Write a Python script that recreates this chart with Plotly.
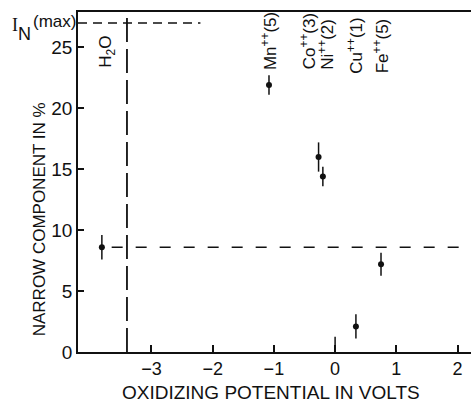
import plotly.graph_objects as go

# Data
ions = ["H<sub>2</sub>O", "Mn<sup>++</sup>(5)", "Co<sup>++</sup>(3)", "Ni<sup>++</sup>(2)", "Cu<sup>++</sup>(1)", "Fe<sup>++</sup>(5)"]
potential = [-3.81, -1.08, -0.27, -0.20, 0.34, 0.75]
narrow_pct = [8.6, 21.9, 16.0, 14.4, 2.1, 7.2]
err = [1.0, 0.8, 1.2, 0.8, 1.0, 0.95]
label_x = [-3.72, -1.09, -0.45, -0.14, 0.33, 0.74]
label_y = [23.2, 23.0, 23.0, 23.0, 22.7, 22.7]

i_n_max = 27.0
h2o_level = 8.6
h2o_potential = -3.4

x_ticks = [-3, -2, -1, 0, 1, 2]
y_ticks = [0, 5, 10, 15, 20, 25]

FONT = "Liberation Sans Narrow, Liberation Sans, Arial, sans-serif"
INK = "#111111"

fig = go.Figure()

fig.add_trace(go.Scatter(
    x=potential, y=narrow_pct, mode="markers",
    marker=dict(color=INK, size=6),
    error_y=dict(type="data", array=err, visible=True, color=INK, thickness=1.5, width=0),
    showlegend=False,
))

# dashed reference lines
fig.add_trace(go.Scatter(x=[-4.2, -2.2], y=[i_n_max, i_n_max], mode="lines",
                         line=dict(color=INK, width=1.5, dash="9px,6px"), showlegend=False))
fig.add_trace(go.Scatter(x=[-3.65, 2.25], y=[h2o_level, h2o_level], mode="lines",
                         line=dict(color=INK, width=1.5, dash="11px,13px"), showlegend=False))
fig.add_trace(go.Scatter(x=[h2o_potential, h2o_potential], y=[0, 27.9], mode="lines",
                         line=dict(color=INK, width=1.8, dash="24px,7px"), showlegend=False))

# longer tick at zero
fig.add_shape(type="line", x0=0, x1=0, y0=0, y1=1.25, xref="x", yref="y",
              line=dict(color=INK, width=1.5))

for t, lx, ly in zip(ions, label_x, label_y):
    fig.add_annotation(x=lx, y=ly, xref="x", yref="y", text=t, showarrow=False,
                       textangle=-90, xanchor="center", yanchor="bottom",
                       font=dict(family=FONT, size=17, color=INK))

# I_N(max) label built from parts
fig.add_annotation(x=0, y=1, xref="paper", yref="paper", xanchor="center", yanchor="middle",
                   text="I", showarrow=False, xshift=-63, yshift=-13,
                   font=dict(family="Liberation Serif, serif", size=18, color=INK))
fig.add_annotation(x=0, y=1, xref="paper", yref="paper", xanchor="center", yanchor="middle",
                   text="N", showarrow=False, xshift=-54, yshift=-22,
                   font=dict(family=FONT, size=18, color=INK))
fig.add_annotation(x=0, y=1, xref="paper", yref="paper", xanchor="right", yanchor="middle",
                   text="(max)", showarrow=False, xshift=0, yshift=-9,
                   font=dict(family=FONT, size=17, color=INK))

fig.add_annotation(x=-0.097, y=0.39, xref="paper", yref="paper", xanchor="center", yanchor="middle",
                   text="NARROW COMPONENT IN %", textangle=-90, showarrow=False,
                   font=dict(family=FONT, size=17, color=INK))
fig.add_annotation(x=0.49, y=-0.12, xref="paper", yref="paper", xanchor="center", yanchor="middle",
                   text="OXIDIZING POTENTIAL IN VOLTS", showarrow=False,
                   font=dict(family=FONT, size=19, color=INK))

fig.update_xaxes(range=[-4.2, 2.22], tickvals=x_ticks, ticktext=[str(v).replace("-", "−") for v in x_ticks],
                 ticks="inside", ticklen=7, tickwidth=1.5, tickcolor=INK,
                 showline=True, linecolor=INK, linewidth=1.5, mirror=True,
                 showgrid=False, zeroline=False,
                 tickfont=dict(family=FONT, size=18, color=INK))
fig.update_yaxes(range=[0, 27.9], tickvals=y_ticks,
                 ticks="inside", ticklen=6, tickwidth=1.5, tickcolor=INK,
                 showline=True, linecolor=INK, linewidth=1.5,
                 showgrid=False, zeroline=False,
                 tickfont=dict(family=FONT, size=19, color=INK))

fig.update_layout(width=471, height=402, margin=dict(l=78, r=0, t=12, b=50),
                  plot_bgcolor="white", paper_bgcolor="white")

fig.write_html("out.html")
